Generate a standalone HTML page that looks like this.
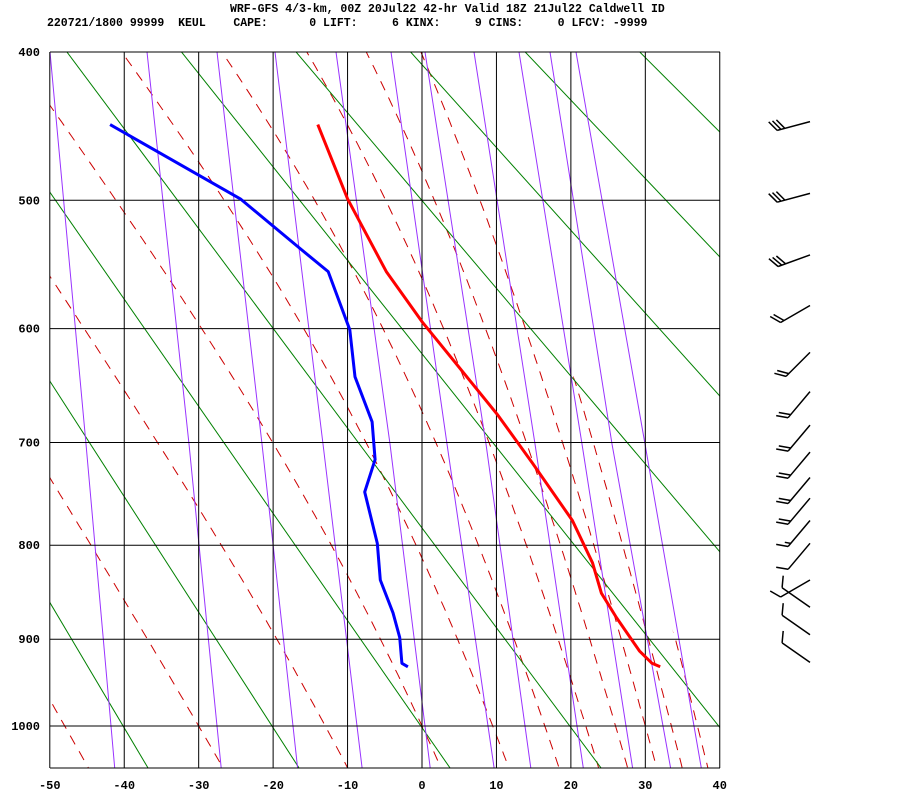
<!DOCTYPE html>
<html><head><meta charset="utf-8">
<style>
html,body{margin:0;padding:0;background:#fff;}
svg{display:block;}
text{font-family:"Liberation Mono",monospace;font-weight:bold;fill:#000;}
</style></head>
<body>
<svg id="chart" width="900" height="800" viewBox="0 0 900 800" xmlns="http://www.w3.org/2000/svg">
<defs>
<clipPath id="plotclip"><rect x="50" y="52" width="670" height="716"/></clipPath>
<clipPath id="moistclip"><polygon points="50,52 447,52 720,752 720,768 50,768"/></clipPath>
</defs>
<text x="230" y="12" font-size="11.5" xml:space="preserve">WRF-GFS 4/3-km, 00Z 20Jul22 42-hr Valid 18Z 21Jul22 Caldwell ID</text>
<text x="47" y="26" font-size="11.5" xml:space="preserve">220721/1800 99999  KEUL    CAPE:      0 LIFT:     6 KINX:     9 CINS:     0 LFCV: -9999</text>
<g id="bg" clip-path="url(#plotclip)"><g id="moist" clip-path="url(#moistclip)"></g></g>
<g id="grid"></g>
<g id="profiles" clip-path="url(#plotclip)"></g>
<g id="barbs"></g>
<g id="labels"></g>
</svg>
<script>
// ---- data ----
const pressureTicks = [400,500,600,700,800,900,1000];
const tempTicks = [-50,-40,-30,-20,-10,0,10,20,30,40];
const tempP = [447,499,554,595,625,675,719,775,818,850,876,913,927,931];
const tempT = [-14.0,-10.0,-4.8,0.1,4.0,10.2,14.8,20.2,22.9,24.1,26.1,29.2,30.9,32.0];
const dewP = [447,499,536,554,601,641,681,716,747,798,836,871,898,927,931];
const dewT = [-41.9,-24.4,-16.4,-12.6,-9.7,-9.0,-6.7,-6.3,-7.7,-6.0,-5.6,-3.9,-3.0,-2.7,-1.9];
const windP = [445,495,541,581,620,654,684,709,733,753,775,798,836,865,895,926];
const windDir = [255,255,250,240,225,220,220,220,220,220,220,220,240,305,305,305];
const windSpd = [30,30,30,20,20,20,20,20,20,20,15,10,10,10,10,10];
const dryTheta = [193,213,233,253,273,293,313,333,353,373,393,413,433,453,473];
const moistStartT = [-48,-30,-13,0,9.5,16.5,22,26,30,33.5,37,40];
const mixTopX = [50,147,217,275,336,391,425,474,519,550,576];
const mixMidX = [86,189,262,323,390,447,486,535,582,612,645];
const mixBotX = [111,217,293,357,425,488,525,577,626,663,694];

const NS='http://www.w3.org/2000/svg';
const K=0.286, PK0=Math.pow(400,K), PK1=Math.pow(1000,K);
function X(t){return 422+t*7.444;}
function Y(p){return 52+(Math.pow(p,K)-PK0)/(PK1-PK0)*674;}
function mk(tag,attrs,parent){const e=document.createElementNS(NS,tag);for(const k in attrs)e.setAttribute(k,attrs[k]);parent.appendChild(e);return e;}
const bg=document.getElementById('bg'),moist=document.getElementById('moist'),grid=document.getElementById('grid'),prof=document.getElementById('profiles'),barbs=document.getElementById('barbs'),labels=document.getElementById('labels');

// dry adiabats
dryTheta.forEach(th=>{
  const p1=360,p2=1080;
  const l=mk('line',{x1:X(th*Math.pow(p1/1000,K)-273.15),y1:Y(p1),x2:X(th*Math.pow(p2/1000,K)-273.15),y2:Y(p2),stroke:'#008000','stroke-width':1},bg);
  
  
});
// moist adiabats
function es(t){return 6.112*Math.exp(17.67*t/(t+243.5));}
function dTdp(p,T){const tc=T-273.15;const e=es(tc);const rs=0.622*e/(p-e);
  return (287*T+2.5e6*rs)/(p*(1004+2.5e6*2.5e6*rs*0.622/(287*T*T)));}
moistStartT.forEach(t0=>{
  let pts=[];let T=t0+273.15;
  for(let p=1000;p>=360;p-=5){pts.push([X(T-273.15),Y(p)]);T-=dTdp(p,T)*5;}
  pts.reverse();T=t0+273.15;
  for(let p=1000;p<=1080;p+=5){T+=dTdp(p,T)*5;pts.push([X(T-273.15),Y(p+5)]);}
  const l=mk('polyline',{points:pts.map(q=>q[0].toFixed(1)+','+q[1].toFixed(1)).join(' '),fill:'none',stroke:'#cc0000','stroke-width':1,'stroke-dasharray':'10,8'},moist);
  
  
});
// mixing ratio lines
mixTopX.forEach((xt,i)=>{
  const xm=mixMidX[i],xb=mixBotX[i];
  const xe=xb+(xb-xm)*(768-726)/(726-444);
  const l=mk('polyline',{points:`${xt},52 ${xm},444 ${xb},726 ${xe.toFixed(1)},768`,fill:'none',stroke:'#9933ff','stroke-width':1},bg);
  
  
});
// grid
pressureTicks.forEach(p=>{
  const l=mk('line',{x1:50,x2:720,y1:Y(p),y2:Y(p),stroke:'#000','stroke-width':1},grid);
  
  
  const t=mk('text',{x:40,y:Y(p)+4,'font-size':12,'text-anchor':'end'},labels);t.textContent=p;
  
  
});
tempTicks.forEach(tv=>{
  const l=mk('line',{x1:X(tv),x2:X(tv),y1:52,y2:768,stroke:'#000','stroke-width':1},grid);
  
  
  const t=mk('text',{x:X(tv),y:789,'font-size':12,'text-anchor':'middle'},labels);t.textContent=tv;
  
  
});
const fr=mk('line',{x1:50,x2:720,y1:768,y2:768,stroke:'#000','stroke-width':1},grid);


// profiles
function profile(P,T,color,name){
  const l=mk('polyline',{points:P.map((p,i)=>X(T[i]).toFixed(1)+','+Y(p).toFixed(1)).join(' '),fill:'none',stroke:color,'stroke-width':3,'stroke-linejoin':'round'},prof);
  
  
}
profile(tempP,tempT,'#ff0000','temperature-profile');
profile(dewP,dewT,'#0000ff','dewpoint-profile');
// wind barbs
windP.forEach((p,i)=>{
  const d=windDir[i]*Math.PI/180, sx=810, sy=Y(p), L=34;
  const ux=Math.sin(d), uy=-Math.cos(d);
  const ex=sx+ux*L, ey=sy+uy*L;
  const px=-uy, py=ux;
  const fx=px*0.87+ux*0.5, fy=py*0.87+uy*0.5;
  let parts=`M${sx},${sy.toFixed(1)} L${ex.toFixed(1)},${ey.toFixed(1)}`;
  let s=windSpd[i], k=0;
  while(s>=10){const bx=ex-ux*k*4,by=ey-uy*k*4;parts+=` M${bx.toFixed(1)},${by.toFixed(1)} l${(fx*12).toFixed(1)},${(fy*12).toFixed(1)}`;s-=10;k++;}
  if(s>=5){const o=(k===0?4:k*4);const bx=ex-ux*o,by=ey-uy*o;parts+=` M${bx.toFixed(1)},${by.toFixed(1)} l${(fx*6).toFixed(1)},${(fy*6).toFixed(1)}`;}
  const b=mk('path',{d:parts,fill:'none',stroke:'#000','stroke-width':1.5},barbs);
  
  
});
</script>
</body></html>
